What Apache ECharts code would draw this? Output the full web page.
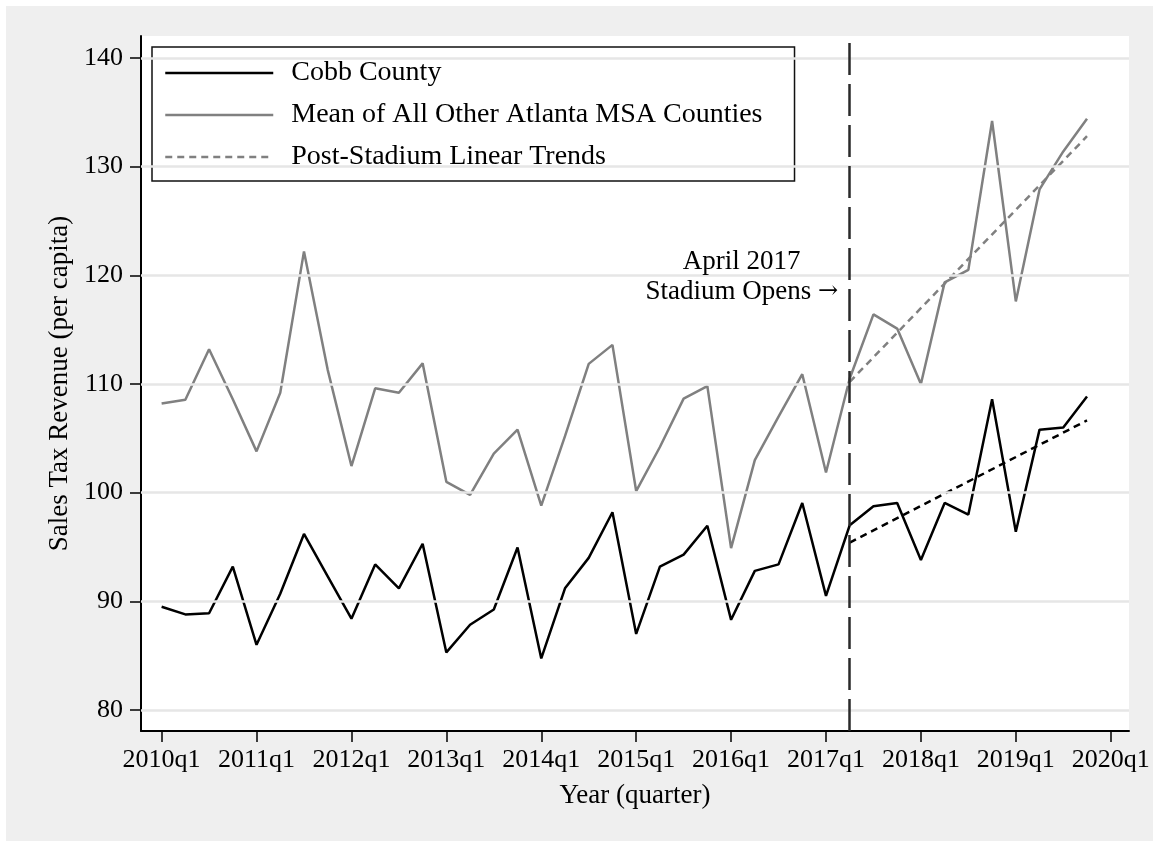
<!DOCTYPE html>
<html><head><meta charset="utf-8">
<script src="https://cdn.jsdelivr.net/npm/echarts@6/dist/echarts.min.js"></script>
<style>
html,body{margin:0;padding:0;background:#fff;}
#bg{position:absolute;left:6px;top:6px;width:1147px;height:835px;background:#efefef;}
#c{position:absolute;left:0;top:0;width:1153px;height:841px;}
</style>
</head><body><div id="bg"></div><div id="c"></div>
<script>
const quarters = ['2010q1','2010q2','2010q3','2010q4','2011q1','2011q2','2011q3','2011q4',
  '2012q1','2012q2','2012q3','2012q4','2013q1','2013q2','2013q3','2013q4',
  '2014q1','2014q2','2014q3','2014q4','2015q1','2015q2','2015q3','2015q4',
  '2016q1','2016q2','2016q3','2016q4','2017q1','2017q2','2017q3','2017q4',
  '2018q1','2018q2','2018q3','2018q4','2019q1','2019q2','2019q3','2019q4'];
const xTickPositions = [0,4,8,12,16,20,24,28,32,36,40];
const xTickLabels = ['2010q1','2011q1','2012q1','2013q1','2014q1','2015q1','2016q1','2017q1','2018q1','2019q1','2020q1'];
const yTicks = [80,90,100,110,120,130,140];
const cobb = [89.5,88.8,88.9,93.2,86.0,90.7,96.2,92.3,88.4,93.4,
  91.2,95.3,85.3,87.85,89.25,94.95,84.75,91.2,94.0,98.2,
  87.0,93.2,94.3,96.95,88.3,92.8,93.4,99.05,90.5,97.0,
  98.75,99.05,93.8,99.05,97.98,108.6,96.4,105.8,106.0,108.85];
const otherMean = [108.2,108.55,113.2,108.6,103.8,109.2,122.2,111.3,102.45,109.6,
  109.2,111.9,101.0,99.8,103.6,105.8,98.8,105.2,111.85,113.6,
  100.15,104.2,108.65,109.8,94.9,103.0,107.0,110.9,101.85,110.5,
  116.4,115.1,110.0,119.35,120.5,134.2,117.6,127.9,131.4,134.4];
const trendQuarters = ['2017q2','2019q4'];
const cobbTrend = [95.4,106.65];
const otherTrend = [110.2,132.8];
const stadiumQuarter = '2017q2';

const FONT = '"Liberation Serif","Times New Roman",serif';
const qi = q => quarters.indexOf(q);
const series2pts = vals => vals.map((v,k)=>[k,v]);
const trend2pts = vals => vals.map((v,k)=>[qi(trendQuarters[k]),v]);

const chart = echarts.init(document.getElementById('c'), null, {renderer:'canvas'});
const option = {
  animation:false,
  textStyle:{fontFamily:FONT},
  grid:{left:141,right:24,top:36,bottom:110,show:true,backgroundColor:'#fff',borderWidth:0},
  legend:{
    data:['Cobb County','Mean of All Other Atlanta MSA Counties','Post-Stadium Linear Trends'],
    orient:'vertical',left:152,top:47,padding:[12,32,10,12],
    itemWidth:108,itemHeight:14,itemGap:14,
    itemStyle:{opacity:0},
    lineStyle:{width:2.5},
    backgroundColor:'#fff',borderColor:'#111',borderWidth:1.5,borderRadius:0,
    textStyle:{fontFamily:FONT,fontSize:28,color:'#000',padding:[0,0,0,13]}
  },
  xAxis:{
    type:'value',min:-0.869,max:40.77,
    axisLine:{show:true,onZero:false,lineStyle:{color:'#000',width:2}},
    axisTick:{show:true,customValues:xTickPositions,length:11,lineStyle:{color:'#000',width:1.5}},
    axisLabel:{customValues:xTickPositions,margin:16,fontSize:26,color:'#000',fontFamily:FONT,
      formatter:v=>xTickLabels[xTickPositions.indexOf(Math.round(v))]},
    splitLine:{show:false},
    name:'Year (quarter)',nameLocation:'middle',nameGap:51,
    nameTextStyle:{fontSize:27,color:'#000',fontFamily:FONT}
  },
  yAxis:{
    type:'value',min:78.07,max:142.02,
    axisLine:{show:true,onZero:false,lineStyle:{color:'#000',width:2}},
    axisTick:{show:true,customValues:yTicks,length:11,lineStyle:{color:'#000',width:1.5}},
    axisLabel:{customValues:yTicks,margin:18,fontSize:26,color:'#000',fontFamily:FONT},
    splitLine:{show:false},
    name:'Sales Tax Revenue (per capita)',nameLocation:'middle',nameGap:68,nameRotate:90,
    nameTextStyle:{fontSize:27,color:'#000',fontFamily:FONT}
  },
  series:[
    {name:'_grid',type:'line',data:[],z:1,silent:true,
      markLine:{silent:true,symbol:['none','none'],label:{show:false},animation:false,
        lineStyle:{color:'#e6e6e6',width:2.5,type:'solid'},
        data:yTicks.map(v=>({yAxis:v}))}},
    {name:'Mean of All Other Atlanta MSA Counties',type:'line',data:series2pts(otherMean),
      symbol:'none',z:3,color:'#808080',lineStyle:{color:'#808080',width:2.5}},
    {name:'Cobb County',type:'line',data:series2pts(cobb),
      symbol:'none',z:4,color:'#000',lineStyle:{color:'#000',width:2.5}},
    {name:'Post-Stadium Linear Trends',type:'line',data:trend2pts(otherTrend),
      symbol:'none',z:3,color:'#808080',lineStyle:{color:'#808080',width:2.5,type:[7,5]}},
    {name:'Cobb Post-Stadium Trend',type:'line',data:trend2pts(cobbTrend),
      symbol:'none',z:4,color:'#000',lineStyle:{color:'#000',width:2.5,type:[7,5]}},
    {name:'_stadium',type:'line',data:[],z:5,silent:true,
      markLine:{silent:true,symbol:['none','none'],label:{show:false},animation:false,
        lineStyle:{color:'#2a2a2a',width:2.5,type:[32,9]},
        data:[{xAxis:qi(stadiumQuarter)}]}}
  ]
};
chart.setOption(option);
const p = chart.convertToPixel({gridIndex:0},[qi(stadiumQuarter),119.85]);
chart.setOption({graphic:[{type:'text',x:p[0]-108,y:p[1],z:10,
  style:{text:'April 2017\nStadium Opens {a|\u2192}',fontSize:27,fontFamily:FONT,fill:'#000',
    align:'center',verticalAlign:'middle',lineHeight:30,
    rich:{a:{fontFamily:'"DejaVu Serif"',fontSize:24,fill:'#000',lineHeight:30}}}}]});
</script></body></html>
